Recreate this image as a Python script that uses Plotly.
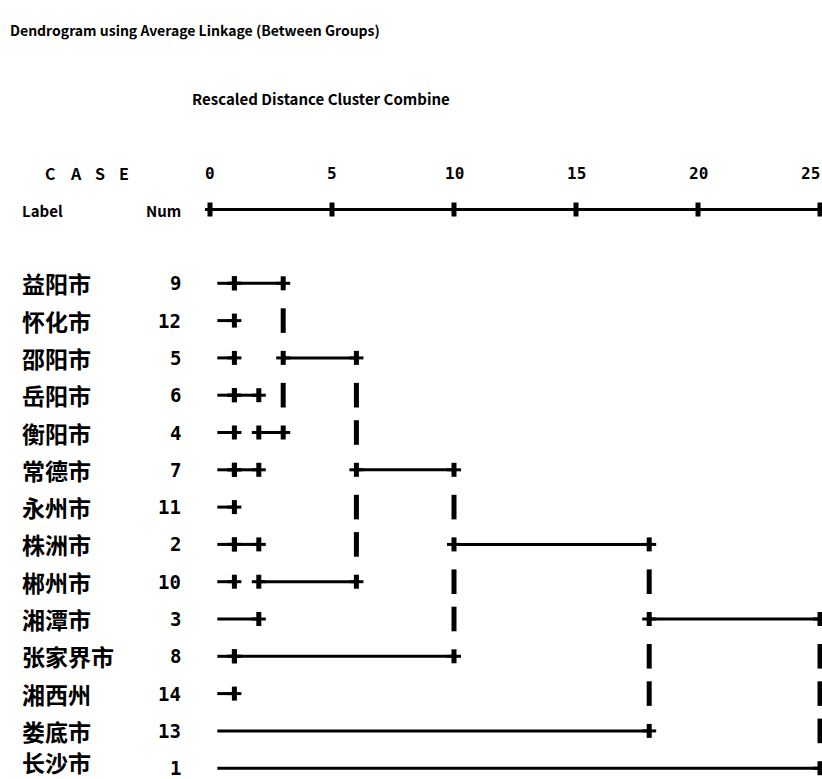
import plotly.graph_objects as go

# ---------------- data ----------------
case_labels = ["益阳市", "怀化市", "邵阳市", "岳阳市", "衡阳市", "常德市", "永州市",
               "株洲市", "郴州市", "湘潭市", "张家界市", "湘西州", "娄底市", "长沙市"]
case_nums = [9, 12, 5, 6, 4, 7, 11, 2, 10, 3, 8, 14, 13, 1]
axis_ticks = [0, 5, 10, 15, 20, 25]

# agglomeration steps (rescaled distance), rows (1-based) whose lines join, row that carries on
merge_heights = [1, 1, 1, 1, 1, 2, 2, 3, 6, 10, 18, 25]
merge_children = [[1, 2], [3, 4, 5], [6, 7], [8, 9], [11, 12], [4, 6], [8, 10],
                  [1, 5], [3, 9], [6, 11], [8, 13], [10, 14]]
merge_cont = [1, 4, 6, 8, 11, 5, 9, 3, 6, 8, 10, None]
leaf_start = 0.3

title_text = "Dendrogram using Average Linkage (Between Groups)"
subtitle_text = "Rescaled Distance Cluster Combine"
case_letters = ["C", "A", "S", "E"]

# ---------------- layout geometry ----------------
W, H = 822, 779
X0_PX, PX_PER_UNIT = 210.0, 24.4
ROW1_PX, ROW_STEP = 283.3, 37.3


def px_to_x(px):
    return (px - X0_PX) / PX_PER_UNIT


def py_to_row(py):
    return 1 + (py - ROW1_PX) / ROW_STEP


PLUS_HW = 7 / PX_PER_UNIT
PLUS_HH = 7 / ROW_STEP
BAR_HALF = 12.3 / ROW_STEP

hx, hy, vx, vy = [], [], [], []


def add_h(x1, x2, r):
    hx.extend([x1, x2, None])
    hy.extend([r, r, None])


def add_v(x, r1, r2):
    vx.extend([x, x, None])
    vy.extend([r1, r2, None])


def add_plus(x, r):
    add_h(x - PLUS_HW, x + PLUS_HW, r)
    add_v(x, r - PLUS_HH, r + PLUS_HH)


# dendrogram
row_start = {r: leaf_start for r in range(1, len(case_labels) + 1)}
for h, kids, cont in zip(merge_heights, merge_children, merge_cont):
    rows = set(kids) | ({cont} if cont else set())
    for r in kids:
        add_h(row_start[r], h, r)
        add_plus(h, r)
    if cont:
        add_plus(h, cont)
        row_start[cont] = h
    for r in range(min(rows) + 1, max(rows)):
        if r not in rows:
            add_v(h, r - BAR_HALF, r + BAR_HALF)

# top scale line
axis_row = py_to_row(209.5)
add_h(px_to_x(205), px_to_x(W + 5), axis_row)
for t in axis_ticks:
    add_v(t, axis_row - PLUS_HH, axis_row + PLUS_HH)

fig = go.Figure()
fig.add_trace(go.Scatter(x=hx, y=hy, mode="lines", line=dict(color="black", width=3),
                         hoverinfo="skip", showlegend=False))
fig.add_trace(go.Scatter(x=vx, y=vy, mode="lines", line=dict(color="black", width=5),
                         hoverinfo="skip", showlegend=False))

LAT = "Noto Sans CJK SC"
ann = []


def text(s, px, py, size, anchor="left", family=LAT):
    ann.append(dict(text=s, x=px / W, y=1 - py / H, xref="paper", yref="paper",
                    xanchor=anchor, yanchor="middle", showarrow=False,
                    font=dict(family=family, size=size, color="black", weight="bold")))


text(title_text, 8, 30, 14)
text(subtitle_text, 190, 99, 15)
for letter, cx in zip(case_letters, [50, 76, 100, 124]):
    text(letter, cx, 173, 16, anchor="center")
text("Label", 20, 210, 15)
text("Num", 183, 210, 15, anchor="right")
for t in axis_ticks:
    cx = X0_PX + t * PX_PER_UNIT
    if cx + 12 > W:
        text(str(t), W, 173, 16, anchor="right", family="DejaVu Sans Mono")
    else:
        text(str(t), cx, 173, 16, anchor="center", family="DejaVu Sans Mono")

for i, (lab, num) in enumerate(zip(case_labels, case_nums)):
    py = ROW1_PX + i * ROW_STEP
    text(lab, 20, min(py, H - 17), 23)
    text(str(num), 183, py, 19, anchor="right", family="DejaVu Sans Mono")

fig.update_layout(
    width=W, height=H, margin=dict(l=0, r=0, t=0, b=0, pad=0),
    paper_bgcolor="white", plot_bgcolor="white", annotations=ann,
    xaxis=dict(range=[px_to_x(0), px_to_x(W)], visible=False, fixedrange=True),
    yaxis=dict(range=[py_to_row(H), py_to_row(0)], visible=False, fixedrange=True),
)
fig.write_html("out.html", config={"displayModeBar": False},
               post_script="document.body.style.margin='0';document.body.style.overflow='hidden';")
